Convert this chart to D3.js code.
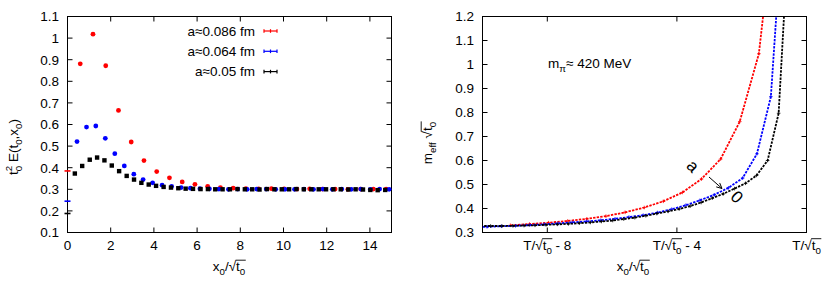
<!DOCTYPE html>
<html>
<head>
<meta charset="utf-8">
<script src="https://cdn.jsdelivr.net/npm/d3@7"></script>
<style>
  body { margin: 0; background: #fff; }
  text { font-family: "Liberation Sans", Arial, sans-serif; fill: #000; }
</style>
</head>
<body>
<svg id="chart" width="830" height="291"></svg>
<script>
// ---- left panel: t0^2 E(t0,x0) vs x0/sqrt(t0)
const redX = [0, 0.59, 1.18, 1.77, 2.36, 2.95, 3.54, 4.13, 4.72, 5.31, 5.90, 6.49, 7.08, 7.67, 8.26, 8.85, 9.44, 10.03, 10.62, 11.21, 11.80, 12.39, 12.98, 13.57, 14.16, 14.75];
const redY = [0.385, 0.881, 1.018, 0.872, 0.665, 0.519, 0.433, 0.382, 0.353, 0.334, 0.323, 0.314, 0.308, 0.305, 0.303, 0.302, 0.303, 0.302, 0.301, 0.302, 0.301, 0.301, 0.300, 0.301, 0.301, 0.301];
const blueX = [0, 0.44, 0.88, 1.31, 1.75, 2.19, 2.63, 3.07, 3.50, 3.94, 4.38, 4.82, 5.26, 5.69, 6.13, 6.57, 7.01, 7.45, 7.88, 8.32, 8.76, 9.20, 9.64, 10.07, 10.51, 10.95, 11.39, 11.83, 12.26, 12.70, 13.14, 13.58, 14.02, 14.45, 14.89];
const blueY = [0.245, 0.521, 0.588, 0.593, 0.536, 0.465, 0.408, 0.370, 0.345, 0.330, 0.319, 0.313, 0.308, 0.305, 0.303, 0.302, 0.301, 0.300, 0.301, 0.300, 0.301, 0.301, 0.300, 0.300, 0.300, 0.301, 0.300, 0.301, 0.300, 0.301, 0.300, 0.301, 0.300, 0.301, 0.300];
const blackX = [0, 0.34, 0.68, 1.03, 1.37, 1.71, 2.05, 2.39, 2.74, 3.08, 3.42, 3.76, 4.10, 4.45, 4.79, 5.13, 5.47, 5.81, 6.16, 6.50, 6.84, 7.18, 7.52, 7.87, 8.21, 8.55, 8.89, 9.23, 9.58, 9.92, 10.26, 10.60, 10.94, 11.29, 11.63, 11.97, 12.31, 12.65, 13.00, 13.34, 13.68, 14.02, 14.36, 14.71];
const blackY = [0.188, 0.373, 0.408, 0.437, 0.447, 0.434, 0.410, 0.384, 0.362, 0.345, 0.330, 0.322, 0.316, 0.311, 0.308, 0.305, 0.303, 0.302, 0.301, 0.301, 0.300, 0.300, 0.300, 0.301, 0.300, 0.300, 0.299, 0.301, 0.300, 0.300, 0.300, 0.301, 0.300, 0.300, 0.300, 0.300, 0.300, 0.300, 0.299, 0.300, 0.299, 0.297, 0.296, 0.297];
const legendLabels = ["a\u22480.086 fm", "a\u22480.064 fm", "a\u22480.05 fm"];
const leftXTicks = [0, 2, 4, 6, 8, 10, 12, 14];
const leftYTicks = [0.1, 0.2, 0.3, 0.4, 0.5, 0.6, 0.7, 0.8, 0.9, 1, 1.1];

// ---- right panel: m_eff sqrt(t0) vs (x0 - T)/sqrt(t0)
const redShift = [-0.88, -1.47, -2.06, -2.65, -3.24, -3.83, -4.42, -5.01, -5.60, -6.19, -6.78, -7.37, -7.96, -8.55, -9.14];
const redMeff = [1.75, 1.045, 0.762, 0.606, 0.523, 0.467, 0.430, 0.404, 0.384, 0.368, 0.357, 0.348, 0.341, 0.335, 0.330];
const blueShift = [-0.66, -1.10, -1.53, -1.97, -2.41, -2.85, -3.29, -3.72, -4.16, -4.60, -5.04, -5.48, -5.91, -6.35, -6.79, -7.23, -7.67, -8.10, -8.54, -8.98, -9.42, -9.86, -10.29];
const blueMeff = [1.75, 0.866, 0.628, 0.527, 0.486, 0.457, 0.434, 0.414, 0.397, 0.383, 0.372, 0.364, 0.357, 0.351, 0.346, 0.342, 0.338, 0.334, 0.331, 0.328, 0.326, 0.324, 0.323];
const blackShift = [-0.51, -0.86, -1.20, -1.54, -1.88, -2.22, -2.57, -2.91, -3.25, -3.59, -3.93, -4.27, -4.62, -4.96, -5.30, -5.64, -5.98, -6.33, -6.67, -7.01, -7.35, -7.69, -8.04, -8.38, -8.72, -9.06, -9.40, -9.75, -10.09];
const blackMeff = [1.65, 0.797, 0.600, 0.538, 0.505, 0.483, 0.461, 0.443, 0.425, 0.410, 0.398, 0.388, 0.379, 0.370, 0.362, 0.356, 0.350, 0.346, 0.342, 0.339, 0.336, 0.334, 0.332, 0.330, 0.329, 0.328, 0.327, 0.327, 0.327];
const rightXTicks = [-8, -4, 0];
const rightYTicks = [0.3, 0.4, 0.5, 0.6, 0.7, 0.8, 0.9, 1, 1.1, 1.2];

const FS = 13.5;
const svg = d3.select("#chart");

// text with sub/superscripts and a sqrt overline
function richText(parent, parts, fs, anchor) {
  const t = parent.append("text").attr("font-size", fs).attr("text-anchor", anchor);
  let shift = 0, prev = null, idx = 0;
  const ov = [];
  parts.forEach((p) => {
    const target = p.sub ? 0.3 * fs : p.sup ? -0.45 * fs : 0;
    const sp = t.append("tspan").text(p.t).attr("dy", target - shift);
    shift = target;
    if (p.sub || p.sup) sp.attr("font-size", fs * 0.72);
    if (p.stack && prev) sp.attr("dx", -prev.node().getComputedTextLength());
    if (p.ov) ov.push([idx, idx + p.t.length - 1]);
    idx += p.t.length;
    prev = sp;
  });
  if (ov.length) {
    const n = t.node();
    const a = n.getStartPositionOfChar(ov[0][0]);
    const b = n.getEndPositionOfChar(ov[ov.length - 1][1]);
    parent.append("line")
      .attr("x1", a.x - 0.5).attr("x2", b.x + 0.5)
      .attr("y1", a.y - 0.8 * fs).attr("y2", a.y - 0.8 * fs)
      .attr("stroke", "#000").attr("stroke-width", 0.9);
  }
  return t;
}

const sqrtT0 = [{ t: "\u221A" }, { t: "t", ov: true }, { t: "0", sub: true, ov: true }];

function ticks(x, y, xt, yt) {
  const g = svg.append("g").attr("stroke", "#000").attr("stroke-width", 1);
  const [x0, x1] = x.range(), [y0, y1] = y.range();
  g.append("rect")
    .attr("x", x0).attr("y", y1).attr("width", x1 - x0).attr("height", y0 - y1)
    .attr("fill", "none");
  xt.forEach((v) => {
    g.append("line").attr("x1", x(v)).attr("x2", x(v)).attr("y1", y0).attr("y2", y0 - 5);
    g.append("line").attr("x1", x(v)).attr("x2", x(v)).attr("y1", y1).attr("y2", y1 + 5);
  });
  yt.forEach((v) => {
    g.append("line").attr("x1", x0).attr("x2", x0 + 5).attr("y1", y(v)).attr("y2", y(v));
    g.append("line").attr("x1", x1).attr("x2", x1 - 5).attr("y1", y(v)).attr("y2", y(v));
  });
  yt.forEach((v) => {
    svg.append("text").attr("x", x0 - 8.5).attr("y", y(v)).attr("dy", "0.36em")
      .attr("text-anchor", "end").attr("font-size", FS).text(d3.format("~g")(v));
  });
}

// ================= left panel =================
const xL = d3.scaleLinear().domain([0, 15]).range([67.5, 391.5]);
const yL = d3.scaleLinear().domain([0.1, 1.1]).range([232.5, 16.5]);

ticks(xL, yL, leftXTicks, leftYTicks);
leftXTicks.forEach((v) => {
  svg.append("text").attr("x", xL(v)).attr("y", 249.5).attr("text-anchor", "middle")
    .attr("font-size", FS).text(v);
});

const seriesL = [
  { xs: redX, ys: redY, color: "#ff0000", shape: "circle" },
  { xs: blueX, ys: blueY, color: "#0000ff", shape: "circle" },
  { xs: blackX, ys: blackY, color: "#000000", shape: "square" }
];
seriesL.forEach((s) => {
  const pts = d3.zip(s.xs, s.ys);
  const g = svg.append("g").attr("fill", s.color);
  pts.forEach(([px, py]) => {
    const cx = xL(px), cy = yL(py);
    if (px === 0) {
      g.append("rect").attr("x", cx - 3).attr("y", cy - 0.8).attr("width", 6).attr("height", 1.6);
    } else if (s.shape === "circle") {
      g.append("circle").attr("cx", cx).attr("cy", cy).attr("r", 2.4);
    } else {
      g.append("rect").attr("x", cx - 2.2).attr("y", cy - 2.2).attr("width", 4.4).attr("height", 4.4);
    }
  });
});

// legend
const legendColors = ["#ff0000", "#0000ff", "#000000"];
legendLabels.forEach((lab, i) => {
  const cy = 31 + i * 20.3;
  svg.append("text").attr("x", 255).attr("y", cy).attr("dy", "0.36em")
    .attr("text-anchor", "end").attr("font-size", FS).text(lab);
  const g = svg.append("g").attr("stroke", legendColors[i]).attr("stroke-width", 1.2);
  g.append("line").attr("x1", 264).attr("x2", 277).attr("y1", cy).attr("y2", cy);
  [264, 270.5, 277].forEach((lx) => g.append("line").attr("x1", lx).attr("x2", lx).attr("y1", cy - 1.8).attr("y2", cy + 1.8));
});

// axis labels
{
  const g = svg.append("g").attr("transform", "translate(229,271)");
  richText(g, [{ t: "x" }, { t: "0", sub: true }, { t: "/" }, ...sqrtT0], FS, "middle");
}
{
  const g = svg.append("g").attr("transform", "translate(18,147) rotate(-90)");
  richText(g, [{ t: "t" }, { t: "0", sub: true }, { t: "2", sup: true, stack: true },
    { t: " E(t" }, { t: "0", sub: true }, { t: ",x" }, { t: "0", sub: true }, { t: ")" }], FS, "middle");
}

// ================= right panel =================
const xR = d3.scaleLinear().domain([-10, 0]).range([482.5, 806.5]);
const yR = d3.scaleLinear().domain([0.3, 1.2]).range([232.5, 16.5]);

svg.append("defs").append("clipPath").attr("id", "clipR")
  .append("rect").attr("x", 482.5).attr("y", 16.5).attr("width", 324).attr("height", 216);

ticks(xR, yR, rightXTicks, rightYTicks);
rightXTicks.forEach((v) => {
  const g = svg.append("g").attr("transform", `translate(${xR(v)},249.5)`);
  const parts = [{ t: "T/" }, ...sqrtT0];
  if (v !== 0) parts.push({ t: ` - ${-v}` });
  richText(g, parts, FS, "middle");
});

const seriesR = [
  { xs: redShift, ys: redMeff, color: "#ff0000" },
  { xs: blueShift, ys: blueMeff, color: "#0000ff" },
  { xs: blackShift, ys: blackMeff, color: "#000000" }
];
const line = d3.line().x((d) => xR(d[0])).y((d) => yR(d[1]));
const plotR = svg.append("g").attr("clip-path", "url(#clipR)");
seriesR.forEach((s) => {
  const pts = d3.zip(s.xs, s.ys);
  plotR.append("path").attr("d", line(pts)).attr("fill", "none")
    .attr("stroke", s.color).attr("stroke-width", 1.8).attr("stroke-dasharray", "2.4,1.2");
  const g = plotR.append("g").attr("stroke", s.color).attr("stroke-width", 0.8);
  pts.forEach(([px, py]) => {
    const cx = xR(px), cy = yR(py);
    g.append("line").attr("x1", cx - 1.8).attr("x2", cx + 1.8).attr("y1", cy).attr("y2", cy);
    g.append("line").attr("x1", cx).attr("x2", cx).attr("y1", cy - 1.8).attr("y2", cy + 1.8);
  });
});

// annotations
richText(svg.append("g").attr("transform", "translate(548,68)"),
  [{ t: "m" }, { t: "\u03C0", sub: true }, { t: "\u2248 420 MeV" }], FS, "start");

svg.append("text").attr("transform", "translate(693,166) rotate(45)")
  .attr("text-anchor", "middle").attr("dy", "0.35em").attr("font-size", 17).text("a");
svg.append("text").attr("transform", "translate(737,197) rotate(45)")
  .attr("text-anchor", "middle").attr("dy", "0.35em").attr("font-size", 17).text("0");
{
  const ax0 = 709, ay0 = 177, ax1 = 722, ay1 = 188.5;
  const ang = Math.atan2(ay1 - ay0, ax1 - ax0);
  const g = svg.append("g").attr("stroke", "#000").attr("stroke-width", 1).attr("fill", "none");
  g.append("line").attr("x1", ax0).attr("y1", ay0).attr("x2", ax1).attr("y2", ay1);
  [-0.45, 0.45].forEach((da) => {
    g.append("line").attr("x1", ax1).attr("y1", ay1)
      .attr("x2", ax1 - 6 * Math.cos(ang + da)).attr("y2", ay1 - 6 * Math.sin(ang + da));
  });
}

{
  const g = svg.append("g").attr("transform", "translate(633,271)");
  richText(g, [{ t: "x" }, { t: "0", sub: true }, { t: "/" }, ...sqrtT0], FS, "middle");
}
{
  const g = svg.append("g").attr("transform", "translate(432,143) rotate(-90)");
  richText(g, [{ t: "m" }, { t: "eff", sub: true }, { t: " " }, ...sqrtT0], FS, "middle");
}
</script>
</body>
</html>
